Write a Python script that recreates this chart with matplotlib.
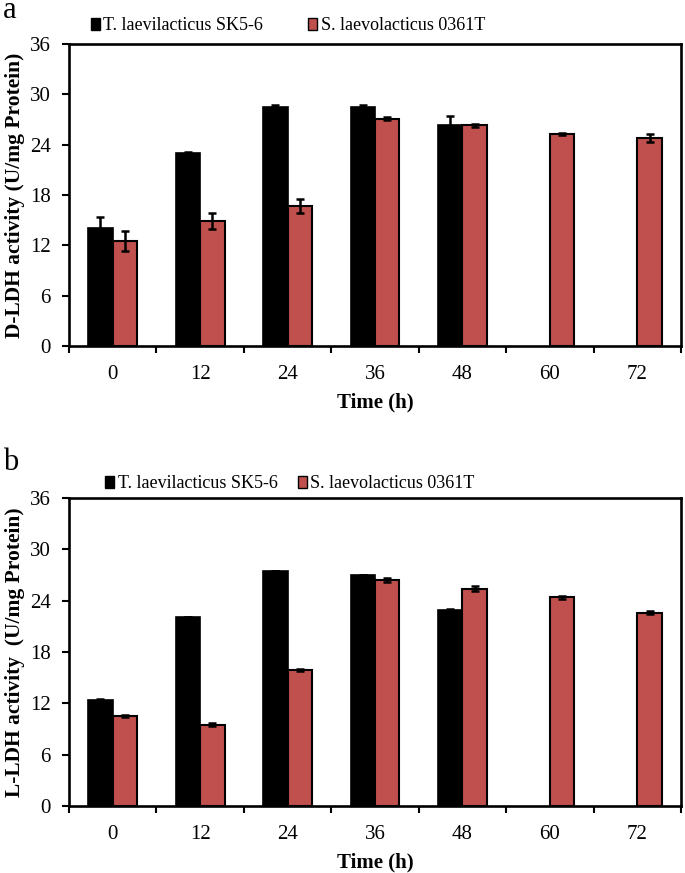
import matplotlib
matplotlib.use("Agg")
import matplotlib.pyplot as plt
import numpy as np
from matplotlib.patches import Patch

plt.rcParams['font.family'] = ['Liberation Serif', 'DejaVu Serif']

times = ["0", "12", "24", "36", "48", "60", "72"]
series_names = ["T. laevilacticus SK5-6", "S. laevolacticus 0361T"]

# Panel a: D-LDH activity
d_tl = [14.1, 23.0, 28.5, 28.5, 26.4, None, None]
d_tl_err = [1.3, 0.15, 0.2, 0.2, 1.0, None, None]
d_sl = [12.5, 14.9, 16.7, 27.1, 26.3, 25.3, 24.8]
d_sl_err = [1.2, 1.0, 0.8, 0.15, 0.2, 0.15, 0.5]

# Panel b: L-LDH activity
l_tl = [12.4, 22.1, 27.5, 27.0, 22.9, None, None]
l_tl_err = [0.15, 0.0, 0.0, 0.0, 0.15, None, None]
l_sl = [10.5, 9.5, 15.9, 26.4, 25.4, 24.4, 22.6]
l_sl_err = [0.15, 0.2, 0.15, 0.2, 0.3, 0.2, 0.2]

yticks = [0, 6, 12, 18, 24, 30, 36]

BLACK = "#000000"
RED = "#C0504D"

fig = plt.figure(figsize=(6.85, 8.73), dpi=100)
W, H = 685, 873

def axes_px(left, right, top, bottom):
    return fig.add_axes([left / W, 1 - bottom / H, (right - left) / W, (bottom - top) / H])

ax_a = axes_px(69, 681, 44, 346)
ax_b = axes_px(69, 681, 498, 806)

def draw(ax, tl, tl_err, sl, sl_err, ylabel):
    x = np.arange(len(times))
    w = 0.28
    idx_tl = [i for i, v in enumerate(tl) if v is not None]
    idx_sl = [i for i, v in enumerate(sl) if v is not None]
    xt = x[idx_tl] - 0.14
    yt = [tl[i] for i in idx_tl]
    et = [tl_err[i] for i in idx_tl]
    xs = x[idx_sl] + 0.14
    ys = [sl[i] for i in idx_sl]
    es = [sl_err[i] for i in idx_sl]
    ax.bar(xt, yt, width=w, color=BLACK, edgecolor=BLACK, linewidth=1.2, zorder=2)
    ax.bar(xs, ys, width=w, color=RED, edgecolor=BLACK, linewidth=1.5, zorder=2)
    ax.errorbar(xt, yt, yerr=et, fmt='none', ecolor=BLACK, elinewidth=1.8,
                capsize=3.2, capthick=1.8, zorder=3)
    ax.errorbar(xs, ys, yerr=es, fmt='none', ecolor=BLACK, elinewidth=1.8,
                capsize=3.2, capthick=1.8, zorder=3)
    ax.set_xlim(-0.5, len(times) - 0.5)
    ax.set_ylim(0, 36)
    ax.set_yticks(yticks)
    ax.set_yticklabels([str(t) for t in yticks], fontsize=15)
    ax.set_xticks(x)
    ax.set_xticklabels(times, fontsize=15)
    ax.set_xticks(np.arange(len(times) + 1) - 0.5, minor=True)
    ax.tick_params(axis='x', which='major', length=0, pad=14)
    ax.tick_params(axis='x', which='minor', length=5, width=1.5, direction='out')
    ax.tick_params(axis='y', which='major', length=5, width=1.5, direction='out', pad=8)
    for s in ax.spines.values():
        s.set_linewidth(1.9)
    ax.set_xlabel("Time (h)", fontsize=15, fontweight='bold', labelpad=6)
    ax.set_ylabel(ylabel, fontsize=15.5, fontweight='bold', labelpad=4)

draw(ax_a, d_tl, d_tl_err, d_sl, d_sl_err, "D-LDH activity (U/mg Protein)")
draw(ax_b, l_tl, l_tl_err, l_sl, l_sl_err, "L-LDH activity  (U/mg Protein)")

handles = [Patch(facecolor=BLACK, edgecolor=BLACK, linewidth=1.0),
           Patch(facecolor=RED, edgecolor=BLACK, linewidth=1.0)]

fig.legend(handles, series_names, loc='center', bbox_to_anchor=(288 / W, 1 - 26 / H),
           ncol=2, frameon=False, fontsize=13, handlelength=0.5, handleheight=0.65,
           handletextpad=0.2, columnspacing=2.5, borderpad=0)
fig.legend(handles, series_names, loc='center', bbox_to_anchor=(290 / W, 1 - 484 / H),
           ncol=2, frameon=False, fontsize=13, handlelength=0.5, handleheight=0.65,
           handletextpad=0.2, columnspacing=1.1, borderpad=0)

fig.text(3 / W, 1 - 18 / H, "a", fontsize=22, va='baseline', ha='left')
fig.text(3 / W, 1 - 470 / H, "b", fontsize=22, va='baseline', ha='left')

fig.savefig("out.png", dpi=100)
